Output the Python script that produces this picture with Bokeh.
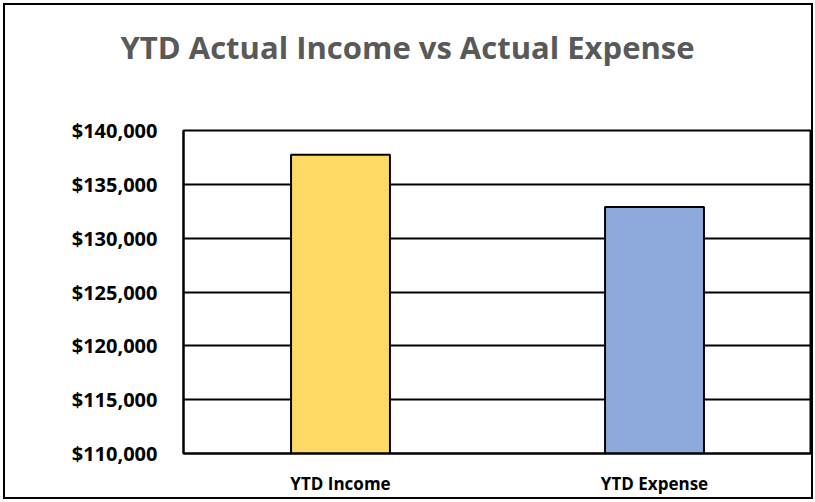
from bokeh.plotting import figure
from bokeh.layouts import column
from bokeh.models import NumeralTickFormatter, FixedTicker, Range1d, ColumnDataSource, Title
from bokeh.embed import file_html
from bokeh.resources import INLINE

categories = ["YTD Income", "YTD Expense"]
values = [137750, 132900]
colors = ["#FFD966", "#8EA9DB"]
y_ticks = [110000, 115000, 120000, 125000, 130000, 135000, 140000]
title_text = "YTD Actual Income vs Actual Expense"

source = ColumnDataSource(dict(cat=categories, val=values, color=colors))

p = figure(x_range=categories, y_range=Range1d(y_ticks[0], y_ticks[-1]),
           width=806, height=492, output_backend="svg", toolbar_location=None,
           title=None,
           min_border_left=178, min_border_right=0, min_border_top=125,
           min_border_bottom=40)

# spacer between plot area and title
spacer = Title(text=" ", text_font_size="10px", standoff=50)
p.add_layout(spacer, "above")
main_title = Title(text=title_text, align="left", offset=-63, standoff=0,
                   text_font="Open Sans", text_font_style="bold",
                   text_font_size="31px", text_color="#595959")
p.add_layout(main_title, "above")

p.vbar(x="cat", top="val", bottom=y_ticks[0], width=0.315, source=source,
       fill_color="color", line_color="black", line_width=2)

p.outline_line_color = "black"
p.outline_line_width = 2
p.xgrid.grid_line_color = None
p.ygrid.grid_line_color = "black"
p.ygrid.grid_line_width = 2
p.ygrid.ticker = FixedTicker(ticks=y_ticks)

p.yaxis.ticker = FixedTicker(ticks=y_ticks)
p.yaxis.formatter = NumeralTickFormatter(format="$0,0")
for ax in (p.xaxis, p.yaxis):
    ax.axis_line_color = "black"
    ax.axis_line_width = 2
    ax.major_tick_line_color = None
    ax.minor_tick_line_color = None
    ax.major_label_text_font = "Open Sans"
    ax.major_label_text_font_style = "bold"
    ax.major_label_text_color = "black"
p.yaxis.major_label_text_font_size = "20px"
p.yaxis.major_label_standoff = 20
p.xaxis.major_label_text_font_size = "17px"
p.xaxis.major_label_standoff = 12

layout = column(p, styles={"border": "2px solid black",
                           "margin-left": "3px", "margin-top": "3px"})

open("out.html", "w").write(file_html(layout, INLINE))
